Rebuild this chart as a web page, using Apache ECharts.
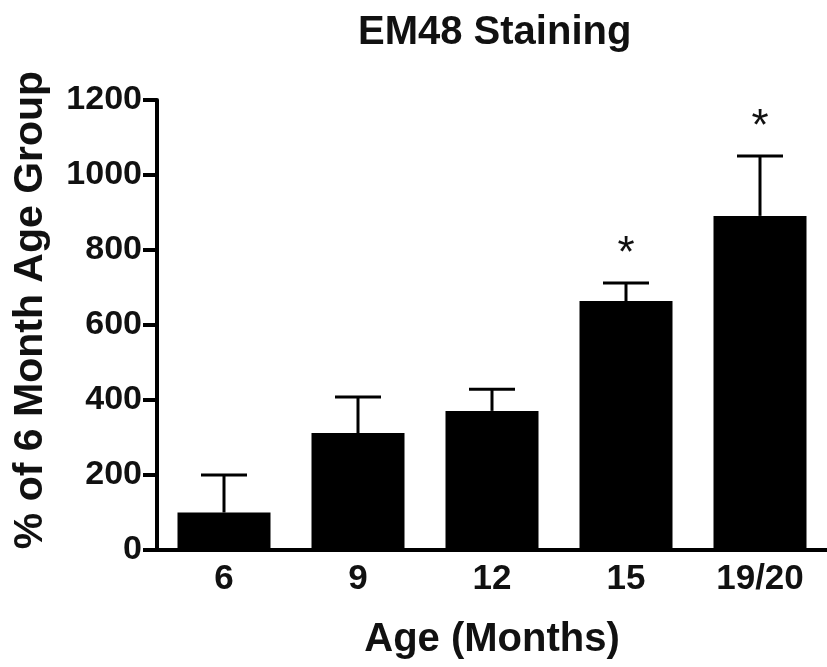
<!DOCTYPE html>
<html>
<head>
<meta charset="utf-8">
<script src="https://cdn.jsdelivr.net/npm/echarts@6/dist/echarts.min.js"></script>
<style>html,body{margin:0;padding:0;background:#fff;}#c{width:827px;height:667px;}</style>
</head>
<body>
<div id="c"></div>
<script>
const categories = ['6', '9', '12', '15', '19/20'];
const means = [100, 312, 371, 664, 891];
const sems = [100, 96, 58, 48, 160];
const marks = ['', '', '', '*', '*'];
const yTicks = { min: 0, max: 1200, interval: 200 };

const FONT = '"Liberation Sans", Arial, Helvetica, sans-serif';
const chart = echarts.init(document.getElementById('c'), null, { renderer: 'canvas' });

const errData = categories.map((c, i) => [i, means[i], means[i] + sems[i], marks[i]]);

chart.setOption({
  animation: false,
  backgroundColor: '#ffffff',
  title: {
    text: 'EM48 Staining',
    left: 353, top: 8,
    textStyle: { fontFamily: FONT, fontWeight: 'bold', fontSize: 40, color: '#111' }
  },
  grid: { left: 157, top: 100, width: 676, bottom: 117, containLabel: false },
  xAxis: {
    type: 'category',
    data: categories,
    name: 'Age (Months)',
    nameLocation: 'middle',
    nameGap: 70,
    nameTextStyle: { fontFamily: FONT, fontWeight: 'bold', fontSize: 40, color: '#111' },
    axisLine: { lineStyle: { color: '#000', width: 4 } },
    axisTick: { alignWithLabel: true, length: 12, lineStyle: { color: '#000', width: 4 } },
    axisLabel: { fontFamily: FONT, fontWeight: 'bold', fontSize: 35, color: '#111', margin: 12 }
  },
  yAxis: {
    type: 'value',
    min: yTicks.min, max: yTicks.max, interval: yTicks.interval,
    name: '% of 6 Month Age Group',
    nameLocation: 'middle',
    nameGap: 106,
    nameTextStyle: { fontFamily: FONT, fontWeight: 'bold', fontSize: 41, color: '#111', padding: [0, 0, 0, 30] },
    splitLine: { show: false },
    axisLine: { show: true, lineStyle: { color: '#000', width: 4 } },
    axisTick: { show: true, length: 14, lineStyle: { color: '#000', width: 4 } },
    axisLabel: { fontFamily: FONT, fontWeight: 'bold', fontSize: 34, color: '#111', margin: 15,
      formatter: function (v) { return String(v); } }
  },
  series: [
    {
      type: 'bar',
      data: means,
      barWidth: 93,
      itemStyle: { color: '#000' },
      z: 2
    },
    {
      type: 'custom',
      data: errData,
      z: 3,
      renderItem: function (params, api) {
        const i = api.value(0);
        const top = api.coord([i, api.value(1)]);
        const hi = api.coord([i, api.value(2)]);
        const half = 23;
        const mark = marks[params.dataIndex];
        const children = [
          { type: 'line', shape: { x1: top[0], y1: top[1], x2: hi[0], y2: hi[1] }, style: { stroke: '#000', lineWidth: 3 } },
          { type: 'line', shape: { x1: hi[0] - half, y1: hi[1], x2: hi[0] + half, y2: hi[1] }, style: { stroke: '#000', lineWidth: 3 } }
        ];
        if (mark) {
          children.push({
            type: 'text',
            x: hi[0], y: hi[1] - 28,
            style: { text: mark, fontFamily: FONT, fontSize: 44, fontWeight: 'normal', fill: '#111', align: 'center', verticalAlign: 'middle' }
          });
        }
        return { type: 'group', children: children };
      }
    }
  ]
});
</script>
</body>
</html>
